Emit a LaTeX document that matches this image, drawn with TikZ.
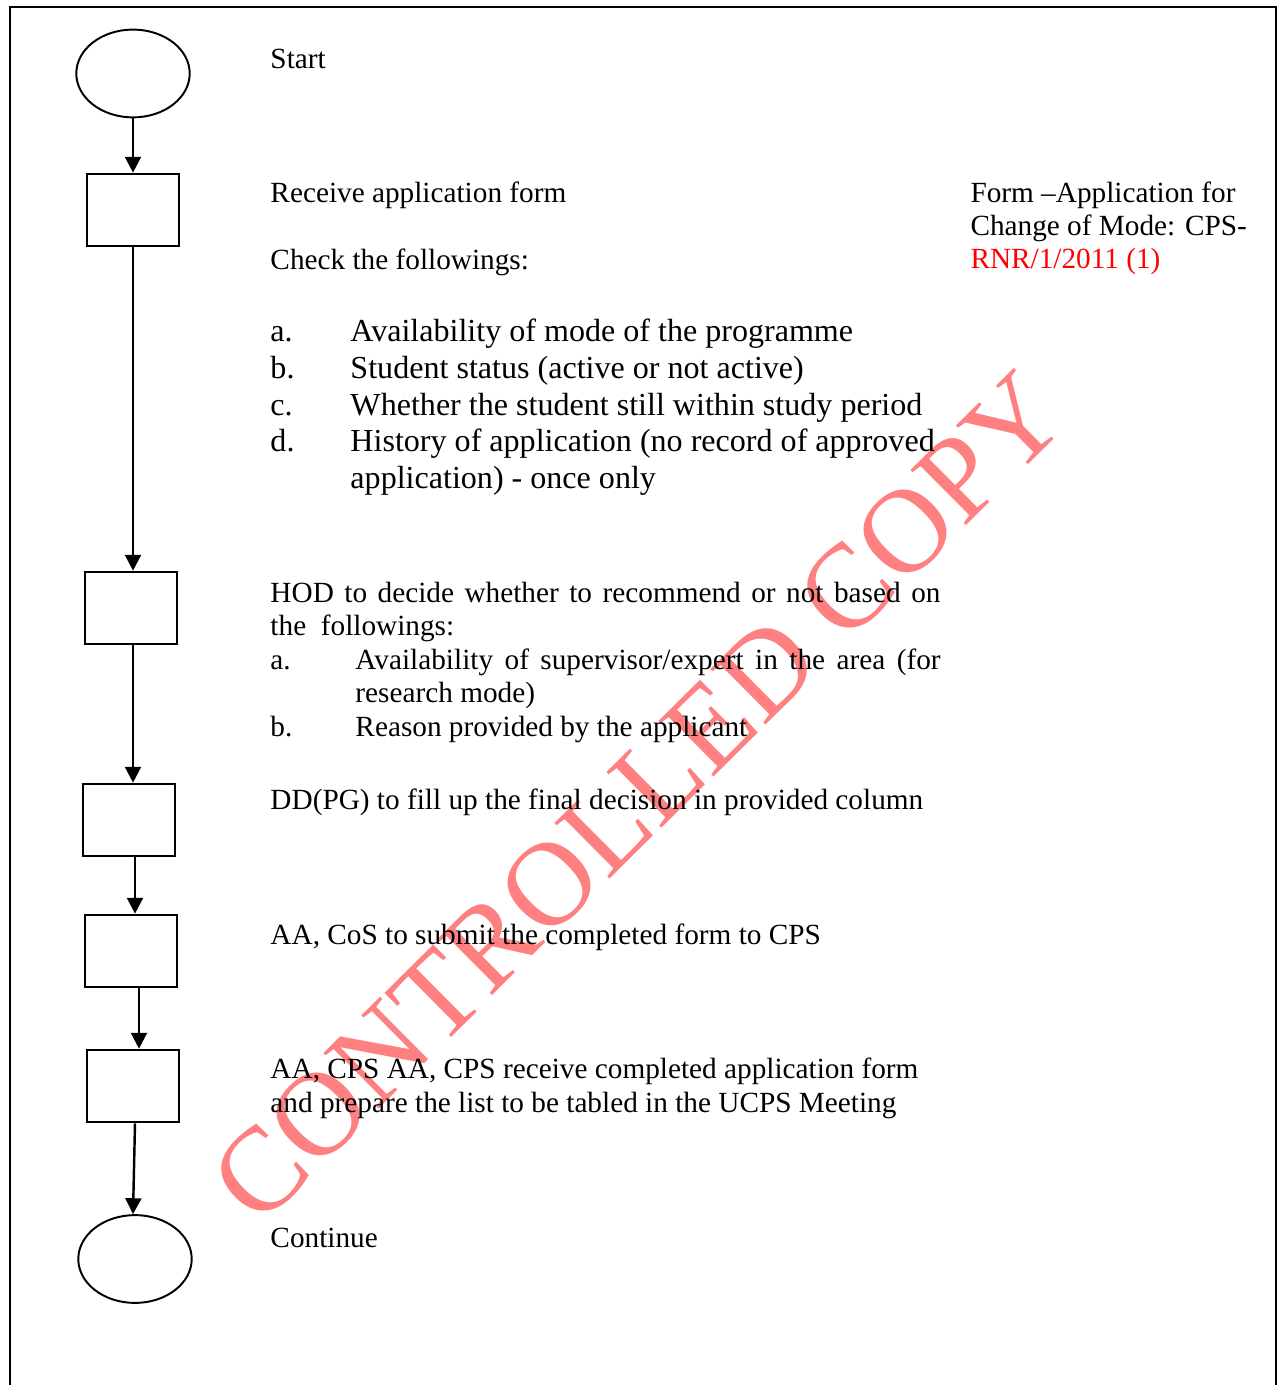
\documentclass[tikz,border=0pt]{standalone}
\usepackage{fontspec}
\setmainfont{Liberation Serif}
\usetikzlibrary{shapes.geometric,arrows.meta}

\begin{document}
\begin{tikzpicture}[x=0.41pt,y=-0.41pt,
    term/.style={draw,ellipse,line width=0.8pt,minimum width=46.5pt,minimum height=36pt,inner sep=0pt},
    stepbox/.style={draw,rectangle,line width=0.8pt,minimum width=37.6pt,minimum height=29.8pt,inner sep=0pt},
    arr/.style={line width=1pt,-{Triangle[length=6.5pt,width=6.5pt]}},
    txt/.style={anchor=base west,inner sep=0pt,font=\fontsize{12}{13.8}\selectfont},
    lst/.style={anchor=base west,inner sep=0pt,font=\fontsize{13.15}{15}\selectfont}]
		\useasboundingbox (0,0) rectangle (1277,1385);
		% watermark
		\node[rotate=44.8,text=red!50,inner sep=0pt,font=\fontsize{49}{49}\selectfont] (wm) at (638,797) {CONTROLLED COPY};
		% frame
		\draw[line width=0.85pt] (10,1385)--(10,7)--(1276,7)--(1276,1385);
		% flow
		\node[term] (start) at (133,73.5) {};
		\node[stepbox] (b1) at (133,210) {};
		\node[stepbox] (b2) at (131,608) {};
		\node[stepbox] (b3) at (129,820) {};
		\node[stepbox] (b4) at (131,951) {};
		\node[stepbox] (b5) at (133,1086) {};
		\node[term] (stop) at (135,1259) {};
		\draw[arr] (start)--(b1);
		\draw[arr] (b1.south)--(b1.south |- b2.north);
		\draw[arr] ([shift={(2,0)}]b2.south)--([shift={(4,0)}]b3.north);
		\draw[arr] ([shift={(6,0)}]b3.south)--([shift={(4,0)}]b4.north);
		\draw[arr] ([shift={(8,0)}]b4.south)--([shift={(6,0)}]b5.north);
		\draw[arr] ([shift={(2,0)}]b5.south)--([shift={(-2,0)}]stop.north);
		% texts
		\node[txt] (t1) at (270,69) {Start};
		\node[txt] (t2) at (270,203) {Receive application form};
		\node[txt] (t3) at (270,270) {Check the followings:};
		\node[lst] (la) at (270,342) {a.};
		\node[lst] (lb) at (270,379) {b.};
		\node[lst] (lc) at (270,416) {c.};
		\node[lst] (ld) at (270,452) {d.};
		\node[lst] (ia) at (350,342) {Availability of mode of the programme};
		\node[lst] (ib) at (350,379) {Student status (active or not active)};
		\node[lst] (ic) at (350,416) {Whether the student still within study period};
		\node[lst] (id) at (350,452) {History of application (no record of approved};
		\node[lst] (ie) at (350,489) {application) - once only};
		\node[txt] (f1) at (970,203) {Form --Application for};
		\node[txt] (f2) at (970,236) {Change of Mode: CPS-};
		\node[txt,text=red] (f3) at (970,269) {RNR/1/2011 (1)};
		\node[txt] (h1) at (270,602) {\makebox[274.7pt][s]{HOD to decide whether to recommend or not based on}};
		\node[txt] (h2) at (270,635) {the\ \ followings:};
		\node[txt] (ha) at (270,669) {a.};
		\node[txt] (ha1) at (355,669) {\makebox[239.9pt][s]{Availability of supervisor/expert in the area (for}};
		\node[txt] (ha2) at (355,702) {research mode)};
		\node[txt] (hb) at (270,736) {b.};
		\node[txt] (hb1) at (355,736) {Reason provided by the applicant};
		\node[txt] (t4) at (270,809) {DD(PG) to fill up the final decision in provided column};
		\node[txt] (t5) at (270,944) {AA, CoS to submit the completed form to CPS};
		\node[txt] (t6) at (270,1078) {AA, CPS AA, CPS receive completed application form};
		\node[txt] (t7) at (270,1112) {and prepare the list to be tabled in the UCPS Meeting};
		\node[txt] (t8) at (270,1247) {Continue};
	    \end{tikzpicture}
\end{document}
